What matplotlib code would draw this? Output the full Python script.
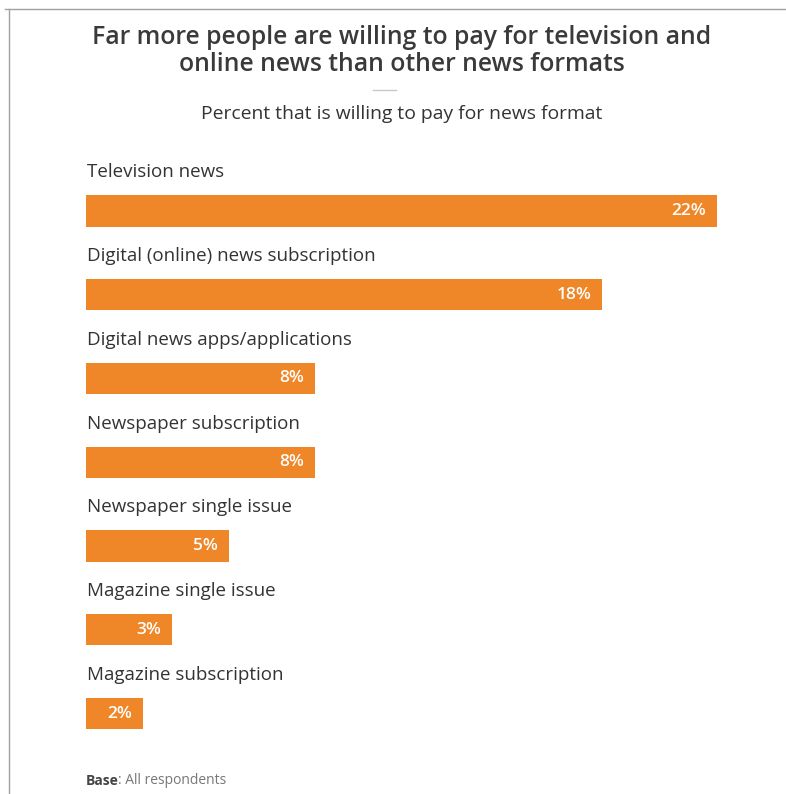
import matplotlib.pyplot as plt
from matplotlib.lines import Line2D

plt.rcParams['font.family'] = ['Open Sans', 'DejaVu Sans']

# News formats, top to bottom, with percent willing to pay
formats = [
    "Television news",
    "Digital (online) news subscription",
    "Digital news apps/applications",
    "Newspaper subscription",
    "Newspaper single issue",
    "Magazine single issue",
    "Magazine subscription",
]
pct = [22, 18, 8, 8, 5, 3, 2]

title = "Far more people are willing to pay for television and\nonline news than other news formats"
subtitle = "Percent that is willing to pay for news format"

orange = "#EF8627"
dark = "#333333"

W, H = 786, 794
fig = plt.figure(figsize=(W / 100, H / 100), dpi=100)

# bar area: x from 86px to 717px (0..22%), bar rows 83.75px apart starting at 211px
top_px, bot_px = 150, 760
step, first = 83.75, 211
ax = fig.add_axes([86 / W, 1 - bot_px / H, (717 - 86) / W, (bot_px - top_px) / H])
ax.set_xlim(0, 22)
ax.set_ylim((bot_px - first) / step, (top_px - first) / step)
ax.axis("off")

ys = list(range(len(formats)))
ax.barh(ys, pct, height=0.375, color=orange, left=0)
for y, name, v in zip(ys, formats, pct):
    ax.text(0.02, y - 0.46, name, ha="left", va="center", fontsize=13.5, color=dark)
    ax.annotate(f"{v}%", xy=(v, y), xytext=(-8, 0), textcoords="offset points",
                ha="right", va="center", fontsize=12.5, fontweight="semibold", color="white")

fig.text(402 / W, 1 - 51 / H, title, ha="center", va="center", fontsize=17.8,
         fontweight="semibold", color="#3a3a3a", linespacing=1.14)
fig.add_artist(Line2D([373 / W, 396 / W], [1 - 90 / H] * 2, color="#c8c8c8", lw=1))
fig.text(402 / W, 1 - 114 / H, subtitle, ha="center", va="center", fontsize=13.9, color=dark)

fig.text(86 / W, 1 - 781 / H, "Base", ha="left", va="center", fontsize=10,
         fontweight="bold", color="#444444")
fig.text(118 / W, 1 - 781 / H, ": All respondents", ha="left", va="center", fontsize=10,
         color="#777777")

# outer frame (top and left edges)
fig.add_artist(Line2D([5 / W, 1], [1 - 9 / H] * 2, color="#a0a0a0", lw=1))
fig.add_artist(Line2D([9 / W, 9 / W], [0, 1 - 9 / H], color="#a0a0a0", lw=1))

fig.savefig("out.png", dpi=100, facecolor="white")
